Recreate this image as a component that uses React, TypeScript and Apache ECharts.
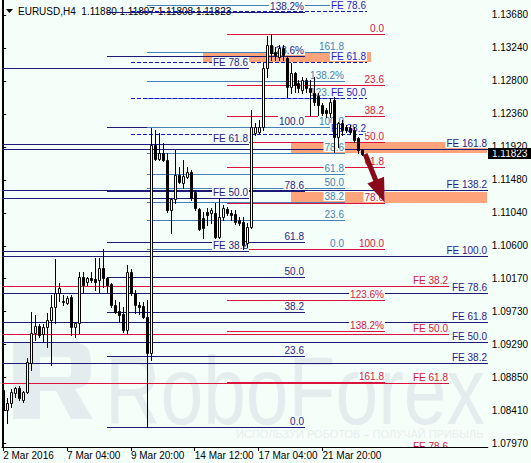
import React, { useEffect, useRef } from "react";
import * as echarts from "echarts";

// ---------- axis data ----------
const timeLabels = ["2 Mar 2016", "7 Mar 04:00", "9 Mar 20:00", "14 Mar 12:00", "17 Mar 04:00", "21 Mar 20:00"];
const timeLabelBars = [0, 16, 32, 48, 64, 80];
const priceTicks = [1.0797, 1.0841, 1.0885, 1.0929, 1.0973, 1.1017, 1.106, 1.1104, 1.1148, 1.1192, 1.1236, 1.128, 1.1324, 1.1368];
const priceMin = 1.07917;
const priceMax = 1.1388;
const barMin = -0.3;
const barMax = 121.45;

// ---------- candles (EURUSD H4) ----------
const opens = [1.08677, 1.08411, 1.08504, 1.08637, 1.08704, 1.08544, 1.08651, 1.09038, 1.09438, 1.09531, 1.09424, 1.09518, 1.09611, 1.09785, 1.09971, 1.09851, 1.09838, 1.09918, 1.09518, 1.09571, 1.10185, 1.10118, 1.10171, 1.10158, 1.10145, 1.10305, 1.10171, 1.10091, 1.09811, 1.09731, 1.09691, 1.09478, 1.10252, 1.09971, 1.09811, 1.09798, 1.09651, 1.09171, 1.11946, 1.11759, 1.11839, 1.11746, 1.11079, 1.11225, 1.11545, 1.11439, 1.11519, 1.11586, 1.11319, 1.11092, 1.10972, 1.11052, 1.11039, 1.11039, 1.10718, 1.10985, 1.11092, 1.11039, 1.11025, 1.10945, 1.10919, 1.10638, 1.10852, 1.12106, 1.12119, 1.12186, 1.12973, 1.1328, 1.13186, 1.1312, 1.1324, 1.13106, 1.12719, 1.12906, 1.12773, 1.12679, 1.12813, 1.12706, 1.12639, 1.12599, 1.12479, 1.12413, 1.12373, 1.12546, 1.12052, 1.12239, 1.12186, 1.12172, 1.12146, 1.12039, 1.1188];
const highs = [1.08744, 1.08571, 1.08691, 1.08717, 1.08731, 1.08664, 1.09104, 1.09718, 1.09678, 1.09558, 1.09558, 1.09705, 1.09945, 1.10425, 1.10105, 1.09945, 1.09931, 1.09945, 1.09585, 1.10252, 1.10252, 1.10185, 1.10252, 1.10438, 1.10438, 1.10558, 1.10185, 1.10105, 1.09878, 1.09851, 1.09785, 1.10345, 1.10292, 1.10011, 1.09851, 1.09851, 1.09878, 1.12172, 1.12146, 1.12106, 1.11972, 1.11839, 1.11239, 1.11879, 1.11652, 1.11746, 1.11652, 1.11612, 1.11345, 1.11105, 1.11052, 1.11105, 1.11105, 1.11172, 1.11239, 1.11145, 1.11119, 1.11079, 1.11079, 1.10985, 1.10985, 1.10905, 1.12413, 1.12239, 1.12279, 1.1304, 1.134, 1.13426, 1.13253, 1.1328, 1.1328, 1.1312, 1.1304, 1.1292, 1.12813, 1.12853, 1.12839, 1.12813, 1.12853, 1.12639, 1.12506, 1.12439, 1.12573, 1.12586, 1.12253, 1.12279, 1.12212, 1.12212, 1.12186, 1.12052, 1.11897];
const lows = [1.08344, 1.08237, 1.08451, 1.08584, 1.08544, 1.08517, 1.08637, 1.08944, 1.09344, 1.09384, 1.09318, 1.09251, 1.09011, 1.09571, 1.09865, 1.09811, 1.09825, 1.09411, 1.09384, 1.09438, 1.09985, 1.10078, 1.10118, 1.10011, 1.09985, 1.10051, 1.09985, 1.09785, 1.09705, 1.09585, 1.09451, 1.09438, 1.09945, 1.09705, 1.09691, 1.09638, 1.08184, 1.09078, 1.11746, 1.11746, 1.11732, 1.11052, 1.10772, 1.11172, 1.11439, 1.11372, 1.11505, 1.11212, 1.11079, 1.10812, 1.10705, 1.10878, 1.10905, 1.10705, 1.10705, 1.10945, 1.11012, 1.10945, 1.10892, 1.10878, 1.10558, 1.10585, 1.10838, 1.12079, 1.12106, 1.12146, 1.12853, 1.1308, 1.1308, 1.1308, 1.1308, 1.12586, 1.12639, 1.12653, 1.12653, 1.12639, 1.12653, 1.12346, 1.12479, 1.12346, 1.12346, 1.12319, 1.12319, 1.11852, 1.11919, 1.12079, 1.12119, 1.12092, 1.11986, 1.11839, 1.11808];
const closes = [1.08411, 1.08504, 1.08651, 1.08704, 1.08571, 1.08651, 1.09051, 1.09438, 1.09531, 1.09411, 1.09518, 1.09611, 1.09785, 1.09971, 1.10038, 1.09865, 1.09905, 1.09518, 1.09571, 1.10185, 1.10078, 1.10171, 1.10145, 1.10118, 1.10305, 1.10171, 1.10078, 1.09811, 1.09718, 1.09678, 1.09478, 1.10252, 1.09971, 1.09811, 1.09785, 1.09651, 1.09171, 1.11946, 1.11759, 1.11839, 1.11746, 1.11079, 1.11225, 1.11545, 1.11452, 1.11532, 1.11586, 1.11239, 1.11105, 1.10825, 1.10838, 1.11012, 1.11079, 1.10718, 1.10985, 1.11105, 1.11039, 1.11012, 1.10919, 1.10905, 1.10612, 1.10852, 1.12186, 1.12186, 1.12186, 1.12973, 1.1328, 1.13173, 1.13146, 1.1324, 1.13146, 1.12719, 1.12906, 1.12746, 1.12706, 1.12813, 1.12706, 1.12653, 1.12519, 1.12479, 1.12373, 1.12373, 1.12519, 1.12052, 1.12239, 1.12146, 1.12146, 1.12119, 1.12012, 1.11879, 1.11823];

// ---------- Fibonacci tools (anchors: bars [from, to], prices [0%, 100%]) ----------
const navyFibLevels = [0, 23.6, 38.2, 50, 61.8, 78.6, 100, 123.6, 138.2];
const navyFibTexts = ["0.0", "23.6", "38.2", "50.0", "61.8", "78.6", "100.0", "123.6%", "138.2%"];
const navyFibBars = [26, 75.7];
const navyFibPrices = [1.08184, 1.12186];

const blueFibLevels = [0, 23.6, 38.2, 50, 61.8, 78.6, 100, 123.6, 138.2, 161.8, 200];
const blueFibTexts = ["0.0", "23.6", "38.2", "50.0", "61.8", "78.6", "100.0", "123.6%", "138.2%", "161.8", ""];
const blueFibBars = [36, 85.7];
const blueFibPrices = [1.10558, 1.12183];

const redFibLevels = [0, 23.6, 38.2, 50, 61.8, 78.6, 100, 123.6, 138.2, 161.8];
const redFibTexts = ["0.0", "23.6", "38.2", "50.0", "61.8", "78.6", "100.0", "123.6%", "138.2%", "161.8"];
const redFibBars = [56, 95.7];
const redFibPrices = [1.13426, 1.10558];

const feShortLevels = [38.2, 50, 61.8, 78.6];
const feShortTexts = ["FE 38.2", "FE 50.0", "FE 61.8", "FE 78.6"];
const feLongLevels = [38.2, 50, 61.8, 78.6, 100, 138.2, 161.8];
const feLongTexts = ["FE 38.2", "FE 50.0", "FE 61.8", "FE 78.6", "FE 100.0", "FE 138.2", "FE 161.8"];

const feABars = [32, 91.2];
const feAPrices = [1.10548, 1.14606];
const feBBars = [barMin, 61.7];
const feBPrices = [1.08228, 1.1426];
const feCBars = [barMin, barMax];
const feCPrices = [1.0816, 1.10465];
const feDBars = [barMin, 111.7];
const feDPrices = [1.12152, 1.06687];

// ---------- target zones & arrow ----------
const zoneBars = [[50, 92], [72, 121], [72, 121]];
const zonePrices = [[1.13186, 1.13053], [1.11986, 1.11839], [1.11323, 1.11176]];
const arrowBars = [90.7, 95.6];
const arrowPrices = [1.11826, 1.1118];

// ---------- styles ----------
const BG = "#F5FFFA";
const FONT = "'Liberation Sans', Arial, sans-serif";
const NAVY = "#1c1c78";
const NAVY_TEXT = "#2a1a8c";
const STEEL = "#4682B4";
const RED = "#DC143C";
const DASH_BLUE = "#1414c8";
const DASH_TEXT = "#2a18d0";
const ZONE = "#FFA47A";
const ARROW = "#8B0A1A";
const MARK = "#E3EDED";

type Seg = { x1: number; x2: number; price: number; color: string; dash: boolean; text: string; textColor: string };

function addTool(out: Seg[], levels: number[], texts: string[], bars: number[], prices: number[], color: string, textColor: string, dash: boolean) {
  levels.forEach((lv, i) => {
    out.push({
      x1: bars[0],
      x2: bars[1],
      price: prices[0] + ((prices[1] - prices[0]) * lv) / 100,
      color,
      dash,
      text: texts[i],
      textColor,
    });
  });
}

const LOGO_D =
  "M0,0 H62 Q78,0 78,18 V28 Q78,44 62,46 L80,76 H58 L43,48 H27 V76 H0 Z M27,14 V34 H54 Q58,34 58,30 V18 Q58,14 54,14 Z";
let logoRegistered = false;

function baseGraphics(): any[] {
  return [
    { id: "logo", type: "rfLogo", x: 13, y: 343, z: 0, silent: true, style: { fill: MARK } },
    {
      id: "wm",
      type: "text",
      x: 105,
      y: 390,
      scaleX: 0.8,
      z: 0,
      silent: true,
      style: { text: "RoboForex", font: `96px ${FONT}`, fill: MARK, verticalAlign: "middle", align: "left" },
    },
    {
      id: "tag",
      type: "text",
      x: 236,
      y: 434,
      z: 0,
      silent: true,
      style: { text: "ИСПОЛЬЗУЙ РОБОТОВ – ПОЛУЧАЙ ПРИБЫЛЬ", font: `11px ${FONT}`, fill: "#E6EEEE", verticalAlign: "middle", align: "left" },
    },
    { id: "tri", type: "polygon", z: 0, silent: true, shape: { points: [[6, 9], [13, 9], [9.5, 13]] }, style: { fill: "#000" } },
    {
      id: "title",
      type: "text",
      x: 18,
      y: 11,
      z: 0,
      silent: true,
      style: { text: "EURUSD,H4  1.11880 1.11897 1.11808 1.11823", font: `10px ${FONT}`, fill: "#000", verticalAlign: "middle", align: "left" },
    },
  ];
}

export default function App() {
  const ref = useRef<HTMLDivElement>(null);

  useEffect(() => {
    if (!ref.current) return;
    if (!logoRegistered) {
      echarts.graphic.registerShape("rfLogo", echarts.graphic.extendPath(LOGO_D, {}) as any);
      logoRegistered = true;
    }
    const chart = echarts.init(ref.current, null, { renderer: "svg" });

    const segs: Seg[] = [];
    addTool(segs, feLongLevels, feLongTexts, feCBars, feCPrices, NAVY, NAVY_TEXT, false);
    addTool(segs, feShortLevels, feShortTexts, feBBars, feBPrices, NAVY, NAVY_TEXT, false);
    addTool(segs, feShortLevels, feShortTexts, feDBars, feDPrices, RED, RED, false);
    addTool(segs, navyFibLevels, navyFibTexts, navyFibBars, navyFibPrices, NAVY, NAVY_TEXT, false);
    addTool(segs, blueFibLevels, blueFibTexts, blueFibBars, blueFibPrices, STEEL, STEEL, false);
    addTool(segs, redFibLevels, redFibTexts, redFibBars, redFibPrices, RED, RED, false);
    addTool(segs, feShortLevels, feShortTexts, feABars, feAPrices, DASH_BLUE, DASH_TEXT, true);

    const labelSegs = segs.filter((s) => s.text !== "");

    const option: any = {
      animation: false,
      backgroundColor: BG,
      grid: { left: 2, right: 42, top: 0, bottom: 16 },
      xAxis: {
        type: "value",
        min: barMin,
        max: barMax,
        axisLine: { show: true, lineStyle: { color: "#000", width: 1 } },
        axisTick: { show: true, customValues: timeLabelBars, length: 4, lineStyle: { color: "#000" } },
        axisLabel: {
          customValues: timeLabelBars,
          formatter: (v: number) => timeLabels[timeLabelBars.indexOf(Math.round(v))] ?? "",
          align: "left",
          margin: 3,
          color: "#000",
          fontSize: 10,
          fontFamily: FONT,
        },
        splitLine: { show: false },
      },
      yAxis: [
        {
          type: "value",
          position: "right",
          min: priceMin,
          max: priceMax,
          axisLine: { show: true, lineStyle: { color: "#000", width: 1 } },
          axisTick: { show: true, customValues: priceTicks, length: 3, lineStyle: { color: "#000" } },
          axisLabel: {
            customValues: priceTicks,
            formatter: (v: number) => v.toFixed(5),
            margin: 4,
            color: "#000",
            fontSize: 10,
            fontFamily: FONT,
          },
          splitLine: { show: false },
        },
        {
          type: "value",
          position: "left",
          min: priceMin,
          max: priceMax,
          axisLine: { show: true, lineStyle: { color: "#000", width: 1 } },
          axisTick: { show: false },
          axisLabel: { show: false },
          splitLine: { show: false },
        },
      ],
      graphic: { elements: baseGraphics() },
      series: [
        {
          type: "custom",
          name: "zones",
          z: 1,
          silent: true,
          clip: true,
          data: zoneBars.map((b, i) => [b[0], zonePrices[i][0], b[1], zonePrices[i][1]]),
          encode: { x: [0, 2], y: [1, 3] },
          renderItem: (params: any, api: any) => {
            const p1 = api.coord([api.value(0), api.value(1)]);
            const p2 = api.coord([api.value(2), api.value(3)]);
            const x = Math.round(Math.min(p1[0], p2[0]));
            const y = Math.round(Math.min(p1[1], p2[1]));
            return {
              type: "rect",
              shape: { x, y, width: Math.round(Math.abs(p2[0] - p1[0])), height: Math.round(Math.abs(p2[1] - p1[1])) },
              style: { fill: ZONE },
            };
          },
        },
        {
          type: "custom",
          name: "levels",
          z: 2,
          silent: true,
          clip: true,
          data: segs.map((s) => [s.x1, s.price, s.x2]),
          encode: { x: [0, 2], y: 1 },
          renderItem: (params: any, api: any) => {
            const s = segs[params.dataIndex];
            const p1 = api.coord([s.x1, s.price]);
            const p2 = api.coord([s.x2, s.price]);
            const y = Math.round(p1[1]) + 0.5;
            return {
              type: "line",
              shape: { x1: Math.round(p1[0]), y1: y, x2: Math.round(p2[0]), y2: y },
              style: { stroke: s.color, lineWidth: 1, lineDash: s.dash ? [4, 2] : null },
            };
          },
        },
        {
          type: "custom",
          name: "levelTexts",
          z: 3,
          silent: true,
          clip: true,
          data: labelSegs.map((s) => [s.x2, s.price]),
          encode: { x: 0, y: 1 },
          renderItem: (params: any, api: any) => {
            const s = labelSegs[params.dataIndex];
            const p = api.coord([s.x2, s.price]);
            return {
              type: "text",
              x: Math.round(p[0]),
              y: Math.round(p[1]) - 6,
              style: {
                text: s.text,
                fill: s.textColor,
                font: `10px ${FONT}`,
                align: "right",
                verticalAlign: "middle",
                backgroundColor: BG,
                padding: [0, 1, 0, 1],
              },
            };
          },
        },
        {
          type: "custom",
          name: "EURUSD,H4",
          z: 4,
          silent: true,
          data: opens.map((o, i) => [i, o, closes[i], lows[i], highs[i]]),
          encode: { x: 0, y: [1, 2, 3, 4] },
          renderItem: (params: any, api: any) => {
            const i = api.value(0);
            const o = api.value(1);
            const c = api.value(2);
            const pO = api.coord([i, o]);
            const pC = api.coord([i, c]);
            const pL = api.coord([i, api.value(3)]);
            const pH = api.coord([i, api.value(4)]);
            const cx = Math.round(pO[0]);
            const yO = Math.round(pO[1]);
            const yC = Math.round(pC[1]);
            const top = Math.min(yO, yC);
            const bot = Math.max(yO, yC);
            const bull = c >= o;
            return {
              type: "group",
              children: [
                {
                  type: "line",
                  shape: { x1: cx + 0.5, y1: Math.round(pH[1]), x2: cx + 0.5, y2: Math.round(pL[1]) + 1 },
                  style: { stroke: "#000", lineWidth: 1 },
                },
                {
                  type: "rect",
                  shape: { x: cx - 0.5, y: top + 0.5, width: 2, height: Math.max(bot - top, 0) },
                  style: { fill: bull ? "#FFFFFF" : "#000000", stroke: "#000", lineWidth: 1 },
                },
              ],
            };
          },
        },
        {
          type: "custom",
          name: "arrow",
          z: 5,
          silent: true,
          data: [[arrowBars[0], arrowPrices[0], arrowBars[1], arrowPrices[1]]],
          encode: { x: [0, 2], y: [1, 3] },
          renderItem: (params: any, api: any) => {
            const a = api.coord([api.value(0), api.value(1)]);
            const b = api.coord([api.value(2), api.value(3)]);
            const dx = b[0] - a[0];
            const dy = b[1] - a[1];
            const len = Math.sqrt(dx * dx + dy * dy);
            const ux = dx / len;
            const uy = dy / len;
            const headLen = 24;
            const half = 9;
            const bx = b[0] - ux * headLen;
            const by = b[1] - uy * headLen;
            return {
              type: "group",
              children: [
                {
                  type: "line",
                  shape: { x1: a[0], y1: a[1], x2: bx + ux * 2, y2: by + uy * 2 },
                  style: { stroke: ARROW, lineWidth: 5 },
                },
                {
                  type: "polygon",
                  shape: {
                    points: [
                      [b[0], b[1]],
                      [bx - uy * half, by + ux * half],
                      [bx + uy * half, by - ux * half],
                    ],
                  },
                  style: { fill: ARROW },
                },
              ],
            };
          },
        },
      ],
    };

    chart.setOption(option);

    const lastClose = closes[closes.length - 1];
    const py = Math.round(chart.convertToPixel({ yAxisIndex: 0 }, lastClose) as number);
    const ax = Math.round(chart.convertToPixel({ xAxisIndex: 0 }, barMax) as number);
    const priceBox = {
      id: "pricebox",
      type: "group",
      z: 100,
      silent: true,
      children: [
        { type: "rect", shape: { x: ax, y: py - 6, width: 531 - ax, height: 11 }, style: { fill: "#000" } },
        {
          type: "text",
          x: ax + 4,
          y: py - 0.5,
          style: { text: lastClose.toFixed(5), fill: "#fff", font: `10px ${FONT}`, verticalAlign: "middle", align: "left" },
        },
      ],
    };
    chart.setOption({ graphic: { elements: [...baseGraphics(), priceBox] } });

    return () => {
      chart.dispose();
    };
  }, []);

  return <div ref={ref} style={{ position: "fixed", left: 0, top: 0, width: 531, height: 463 }} />;
}
